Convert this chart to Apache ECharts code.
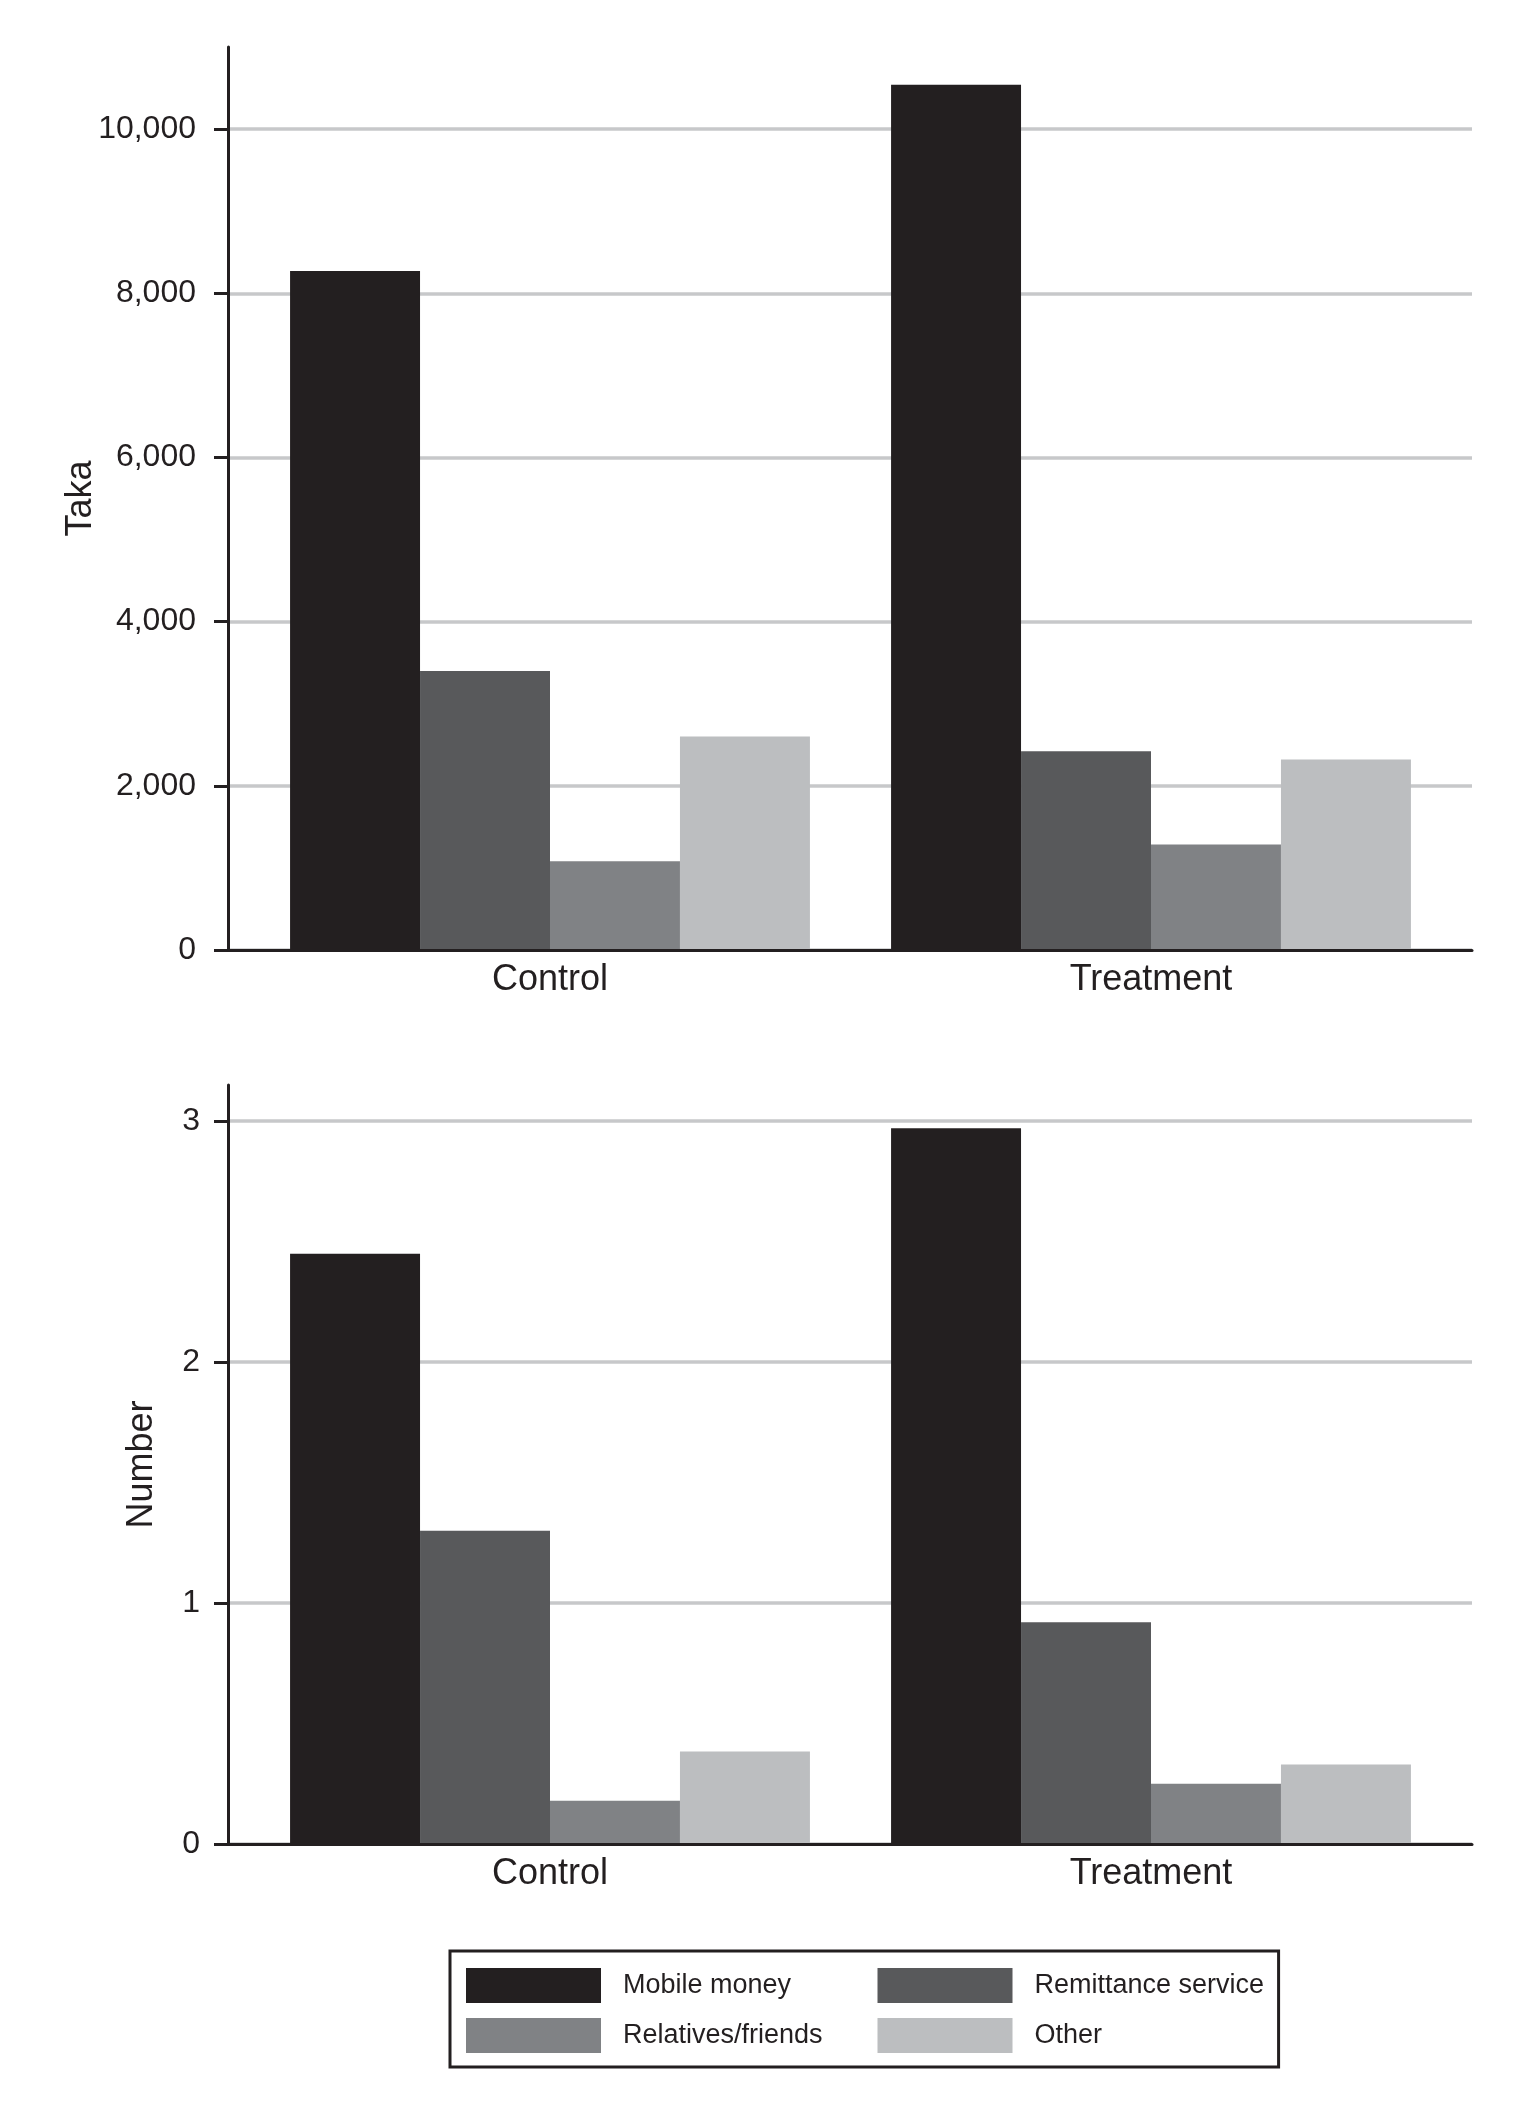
<!DOCTYPE html>
<html><head><meta charset="utf-8">
<script src="https://cdn.jsdelivr.net/npm/echarts@6/dist/echarts.min.js"></script>
<style>html,body{margin:0;padding:0;background:#fff}#c{width:1518px;height:2108px}</style>
</head><body><div id="c"></div>
<script>
// ---- data ----
const categories = ['Control', 'Treatment'];
const seriesNames = ['Mobile money', 'Remittance service', 'Relatives/friends', 'Other'];
const takaMobile = [8270, 10540];
const takaRemit = [3400, 2420];
const takaRelatives = [1080, 1285];
const takaOther = [2600, 2320];
const numMobile = [2.45, 2.97];
const numRemit = [1.30, 0.92];
const numRelatives = [0.18, 0.25];
const numOther = [0.384, 0.33];
const takaTicks = [0, 2000, 4000, 6000, 8000, 10000];
const numberTicks = [0, 1, 2, 3];

// ---- style ----
const INK = '#231f20';
const GRID = '#c7c8ca';
const colors = ['#231f20', '#58595b', '#808285', '#bcbec0'];
const FONT = 'Liberation Sans, Arial, Helvetica, sans-serif';

const chart = echarts.init(document.getElementById('c'), null, {renderer: 'canvas'});

function fmtThousands(v) { return String(v).replace(/\B(?=(\d{3})+(?!\d))/g, ','); }

const topPlot = {top: 47, height: 903};
const botPlot = {top: 1085, height: 759};
const frameX = {left: 228, width: 1244};
const barsX = {left: 249.5, width: 1202};

function frameYAxis(gridIndex, max, interval, ticks, name, nameGap, margin, formatter) {
  return {
    type: 'value', gridIndex, min: 0, max, interval,
    name, nameLocation: 'middle', nameGap, nameMoveOverlap: false,
    nameTextStyle: {fontFamily: FONT, fontSize: 36, color: INK},
    axisLine: {show: true, onZero: false, lineStyle: {color: INK, width: 3}},
    axisTick: {show: true, length: 14, customValues: ticks, lineStyle: {color: INK, width: 3}},
    axisLabel: {show: true, customValues: ticks, margin, fontFamily: FONT, fontSize: 32, color: INK, formatter},
    splitLine: {show: true, showMaxLine: true, showMinLine: true, lineStyle: {color: GRID, width: 3.5}}
  };
}
function hiddenYAxis(gridIndex, max) {
  return {type: 'value', gridIndex, min: 0, max, show: false, splitLine: {show: false}};
}
function frameXAxis(gridIndex) {
  return {
    type: 'category', gridIndex, data: categories, z: 5,
    axisLine: {show: true, lineStyle: {color: INK, width: 3}},
    axisTick: {show: false}, axisLabel: {show: false}, splitLine: {show: false}
  };
}
function barsXAxis(gridIndex) {
  return {
    type: 'category', gridIndex, data: categories,
    axisLine: {show: false}, axisTick: {show: false}, splitLine: {show: false},
    axisLabel: {show: true, margin: 12, fontFamily: FONT, fontSize: 36, color: INK}
  };
}
function bar(name, data, colorIdx, xi, yi) {
  return {
    type: 'bar', name, data, xAxisIndex: xi, yAxisIndex: yi,
    barGap: '0%', barCategoryGap: '13.5%',
    itemStyle: {color: colors[colorIdx]}, emphasis: {disabled: true}, z: 3
  };
}

const legendCommon = {
  orient: 'vertical', icon: 'rect', itemWidth: 135, itemHeight: 35, itemGap: 15,
  textStyle: {fontFamily: FONT, fontSize: 27, color: INK, padding: [0, 0, 0, 17]},
  selectedMode: false
};

const option = {
  animation: false,
  backgroundColor: '#ffffff',
  textStyle: {fontFamily: FONT},
  grid: [
    Object.assign({outerBoundsMode: 'none', containLabel: false}, frameX, topPlot),
    Object.assign({outerBoundsMode: 'none', containLabel: false}, barsX, topPlot),
    Object.assign({outerBoundsMode: 'none', containLabel: false}, frameX, botPlot),
    Object.assign({outerBoundsMode: 'none', containLabel: false}, barsX, botPlot)
  ],
  xAxis: [frameXAxis(0), barsXAxis(1), frameXAxis(2), barsXAxis(3)],
  yAxis: [
    frameYAxis(0, 11000, 2000, takaTicks, 'Taka', 129, 32, fmtThousands),
    hiddenYAxis(1, 11000),
    frameYAxis(2, 3.15, 1, numberTicks, 'Number', 68, 28, v => String(v)),
    hiddenYAxis(3, 3.15)
  ],
  legend: [
    Object.assign({}, legendCommon, {
      data: [seriesNames[0], seriesNames[2]],
      left: 450, top: 1951, padding: [17, 456, 14, 16],
      borderColor: INK, borderWidth: 3
    }),
    Object.assign({}, legendCommon, {
      data: [seriesNames[1], seriesNames[3]],
      left: 877.5, top: 1968, padding: 0
    })
  ],
  series: [
    bar(seriesNames[0], takaMobile, 0, 1, 1),
    bar(seriesNames[1], takaRemit, 1, 1, 1),
    bar(seriesNames[2], takaRelatives, 2, 1, 1),
    bar(seriesNames[3], takaOther, 3, 1, 1),
    bar(seriesNames[0], numMobile, 0, 3, 3),
    bar(seriesNames[1], numRemit, 1, 3, 3),
    bar(seriesNames[2], numRelatives, 2, 3, 3),
    bar(seriesNames[3], numOther, 3, 3, 3)
  ]
};
chart.setOption(option);
</script>
</body></html>
